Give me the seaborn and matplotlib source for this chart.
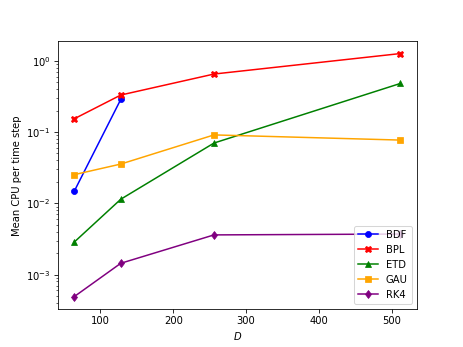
import matplotlib
matplotlib.use("Agg")
import matplotlib.pyplot as plt
import seaborn as sns
import pandas as pd

# problem sizes
D = [64, 128, 256, 512]

# mean CPU time per step
bdf = [0.0147, 0.287]
bpl = [0.153, 0.33, 0.65, 1.26]
etd = [0.00285, 0.0114, 0.07, 0.48]
gau = [0.0252, 0.0355, 0.091, 0.077]
rk4 = [0.00049, 0.00144, 0.0036, 0.0037]

methods = ["BDF", "BPL", "ETD", "GAU", "RK4"]
series = [bdf, bpl, etd, gau, rk4]
colors = ["blue", "red", "green", "orange", "purple"]
markers = ["o", "X", "^", "s", "d"]

rows = []
for name, vals in zip(methods, series):
    for d, v in zip(D, vals):
        rows.append({"D": d, "cpu": v, "method": name})
df = pd.DataFrame(rows)

fig = plt.figure(figsize=(6.4, 4.8), dpi=72.35)
ax = fig.add_subplot(111)
sns.lineplot(data=df, x="D", y="cpu", hue="method", style="method",
             markers=markers, dashes=False, palette=colors,
             markeredgecolor=None, ax=ax)
ax.set_yscale("log")
ax.set_xlabel("$D$")
ax.set_ylabel("Mean CPU per time step")
ax.legend(loc="lower right")
fig.savefig("out.png", dpi=72.35)
